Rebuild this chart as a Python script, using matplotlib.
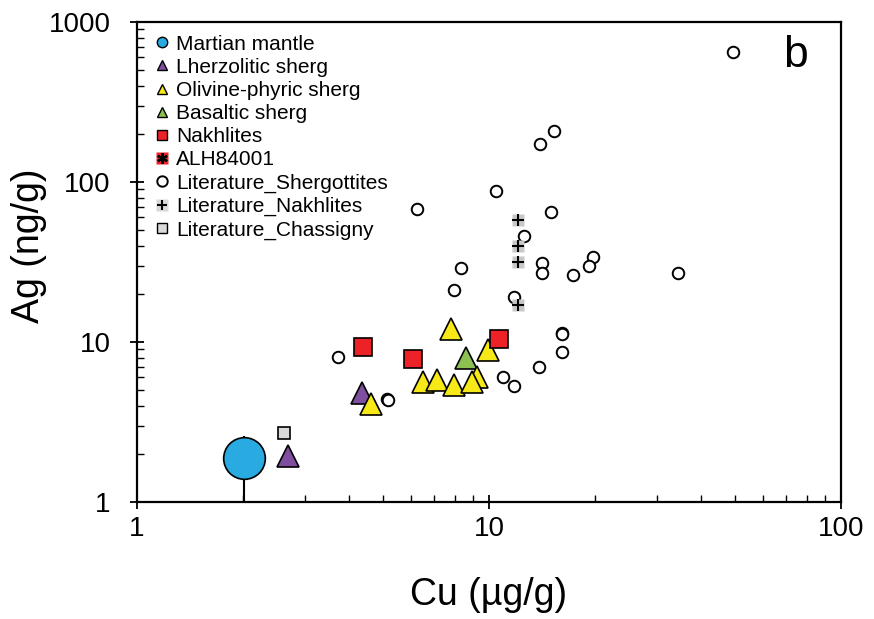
import matplotlib
matplotlib.use("Agg")
import matplotlib.pyplot as plt
from matplotlib.lines import Line2D
from matplotlib.ticker import FuncFormatter, LogLocator, NullFormatter

plt.rcParams['font.family'] = ['Liberation Sans', 'DejaVu Sans']

# ---- data ----
mantle_cu = [2.01]
mantle_ag = [1.88]
mantle_err_low = [0.98]
mantle_err_high = [0.70]

lherz_cu = [2.69, 4.36]
lherz_ag = [1.94, 4.80]

olivine_cu = [4.61, 7.79, 9.95, 6.51, 7.10, 9.23, 7.95, 8.93]
olivine_ag = [4.10, 12.0, 8.91, 5.65, 5.79, 6.02, 5.39, 5.65]

basaltic_cu = [8.59]
basaltic_ag = [7.91]

nakhlite_cu = [4.39, 6.07, 10.7]
nakhlite_ag = [9.35, 7.79, 10.5]

lit_sherg_cu = [49.4, 15.3, 14.0, 10.5, 6.23, 15.0, 12.6, 14.1, 14.1, 19.7, 19.2,
                17.3, 34.4, 8.34, 7.95, 11.8, 16.1, 16.1, 16.1, 13.9, 10.98, 11.8,
                3.72, 5.12, 5.15]
lit_sherg_ag = [647, 207, 173, 87.5, 67.5, 64.7, 45.8, 31.2, 26.9, 34.0, 30.0,
                26.1, 27.0, 29.0, 21.0, 19.1, 11.4, 11.3, 8.66, 7.01, 6.02, 5.31,
                8.02, 4.40, 4.37]

lit_nakh_cu = [12.1, 12.1, 12.1, 12.1]
lit_nakh_ag = [57.9, 39.8, 31.8, 17.0]

lit_chas_cu = [2.62]
lit_chas_ag = [2.69]

labels = ["Martian mantle", "Lherzolitic sherg", "Olivine-phyric sherg",
          "Basaltic sherg", "Nakhlites", "ALH84001", "Literature_Shergottites",
          "Literature_Nakhlites", "Literature_Chassigny"]

BLUE = "#29abe2"
PURPLE = "#7f4f9f"
YELLOW = "#f7e817"
GREEN = "#8cc152"
RED = "#ec2227"
GRAY_N = "#c8c8c8"
GRAY_C = "#d9d9d9"

fig = plt.figure(figsize=(8.74, 6.19), dpi=100)
ax = fig.add_axes([137/874, 1-502/619, (841-137)/874, (502-22)/619])
ax.set_xscale('log')
ax.set_yscale('log')
ax.set_xlim(1, 100)
ax.set_ylim(1, 1000)

ew = 1.2
# literature shergottites
ax.plot(lit_sherg_cu, lit_sherg_ag, ls='none', marker='o', ms=8.3, mfc='white',
        mec='black', mew=1.4, zorder=3)
# literature nakhlites
ax.plot(lit_nakh_cu, lit_nakh_ag, ls='none', marker='s', ms=8.5, mfc=GRAY_N,
        mec='none', zorder=3)
ax.plot(lit_nakh_cu, lit_nakh_ag, ls='none', marker='+', ms=8, mec='black',
        mew=1.5, zorder=3.1)
# literature chassigny
ax.plot(lit_chas_cu, lit_chas_ag, ls='none', marker='s', ms=8, mfc=GRAY_C,
        mec='black', mew=ew, zorder=3)
# martian mantle with error bar
ax.errorbar(mantle_cu, mantle_ag, yerr=[mantle_err_low, mantle_err_high],
            fmt='none', ecolor='black', elinewidth=1.5, capsize=0, zorder=3.5)
ax.plot(mantle_cu, mantle_ag, ls='none', marker='o', ms=30, mfc=BLUE,
        mec='black', mew=ew, zorder=4)
# lherzolitic
ax.plot(lherz_cu, lherz_ag, ls='none', marker='^', ms=15.5, mfc=PURPLE,
        mec='black', mew=ew, zorder=4)
# olivine-phyric
ax.plot(olivine_cu, olivine_ag, ls='none', marker='^', ms=15.5, mfc=YELLOW,
        mec='black', mew=ew, zorder=4.2)
# basaltic
ax.plot(basaltic_cu, basaltic_ag, ls='none', marker='^', ms=15.5, mfc=GREEN,
        mec='black', mew=ew, zorder=4.1)
# nakhlites
ax.plot(nakhlite_cu, nakhlite_ag, ls='none', marker='s', ms=13, mfc=RED,
        mec='black', mew=ew, zorder=4.3)

# axes styling
for s in ax.spines.values():
    s.set_linewidth(1.6)
ax.tick_params(which='major', direction='inout', length=10, width=1.3,
               labelsize=20, top=False, right=False)
ax.tick_params(axis='x', which='major', pad=5)
ax.tick_params(axis='y', which='major', pad=14)
ax.tick_params(which='minor', direction='in', length=5, width=1.0,
               top=False, right=False)
ax.xaxis.set_major_locator(LogLocator(base=10, numticks=10))
ax.yaxis.set_major_locator(LogLocator(base=10, numticks=10))
ax.xaxis.set_minor_locator(LogLocator(base=10, subs=range(2, 10), numticks=20))
ax.yaxis.set_minor_locator(LogLocator(base=10, subs=range(2, 10), numticks=20))
fmt = FuncFormatter(lambda v, p: f"{v:g}")
ax.xaxis.set_major_formatter(fmt)
ax.yaxis.set_major_formatter(fmt)
ax.xaxis.set_minor_formatter(NullFormatter())
ax.yaxis.set_minor_formatter(NullFormatter())

ax.set_xlabel("Cu (µg/g)", fontsize=27, labelpad=25)
ax.set_ylabel("Ag (ng/g)", fontsize=27)
ax.yaxis.set_label_coords(-0.128, 0.533)

ax.text(0.935, 0.93, "b", transform=ax.transAxes, fontsize=32,
        ha='center', va='center')

# legend
lm = 7.5
handles = [
    Line2D([], [], ls='none', marker='o', ms=lm, mfc=BLUE, mec='black', mew=1),
    Line2D([], [], ls='none', marker='^', ms=lm, mfc=PURPLE, mec='black', mew=1),
    Line2D([], [], ls='none', marker='^', ms=lm, mfc=YELLOW, mec='black', mew=1),
    Line2D([], [], ls='none', marker='^', ms=lm, mfc=GREEN, mec='black', mew=1),
    Line2D([], [], ls='none', marker='s', ms=lm, mfc=RED, mec='black', mew=1),
    (Line2D([], [], ls='none', marker='s', ms=lm + 1, mfc=RED, mec='none'),
     Line2D([], [], ls='none', marker=(6, 2, 0), ms=lm, mec='black', mew=1.6)),
    Line2D([], [], ls='none', marker='o', ms=lm, mfc='white', mec='black', mew=1.4),
    (Line2D([], [], ls='none', marker='s', ms=lm + 1, mfc=GRAY_C, mec='none'),
     Line2D([], [], ls='none', marker='+', ms=lm, mec='black', mew=1.5)),
    Line2D([], [], ls='none', marker='s', ms=lm, mfc=GRAY_C, mec='black', mew=1),
]
leg = ax.legend(handles, labels, loc='upper left', bbox_to_anchor=(0.005, 1.0),
                frameon=False, fontsize=15, handlelength=0.9, handletextpad=0.2,
                labelspacing=0.2, borderaxespad=0.3, borderpad=0.3)

fig.savefig("out.png", dpi=100)
